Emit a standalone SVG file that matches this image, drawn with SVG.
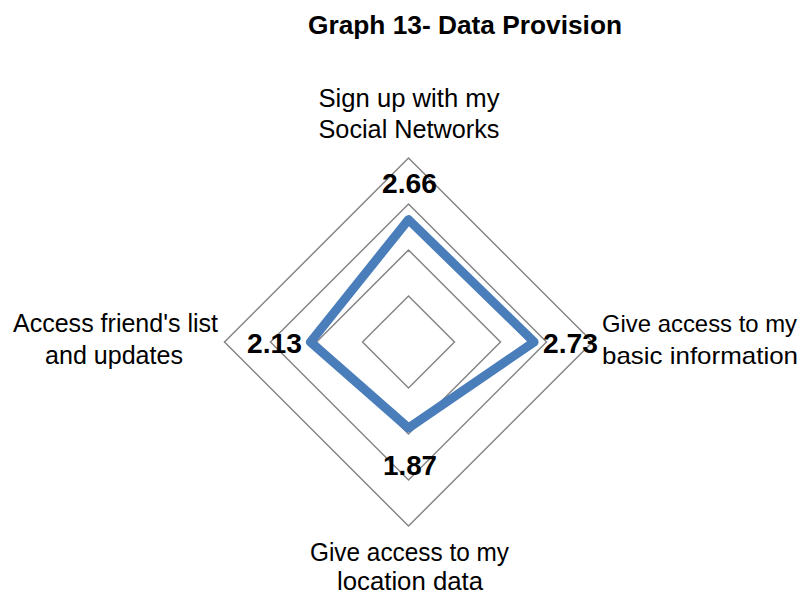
<svg xmlns="http://www.w3.org/2000/svg" width="804" height="596" viewBox="0 0 804 596">
  <style>
    text { font-family: "Liberation Sans", Arial, sans-serif; fill: #000; text-anchor: middle; }
    .title { font-size: 26px; font-weight: bold; }
    .axis { font-size: 25.5px; }
    .axis-r { font-size: 24px; }
    .val { font-size: 28px; font-weight: bold; }
    .grid { fill: none; stroke: #868686; stroke-width: 1.5; }
    .series { fill: none; stroke: #4A7EBB; stroke-width: 9; stroke-linejoin: round; }
  </style>
  <rect width="804" height="596" fill="#ffffff"/>

  <text class="title" x="465" y="34" textLength="314" lengthAdjust="spacingAndGlyphs">Graph 13- Data Provision</text>

  <!-- radar grid: rings at 1, 2, 3, 4 (46px per unit), centre 408.5,342 -->
  <g id="grid">
    <polygon class="grid" points="408.5,296 454.5,342 408.5,388 362.5,342"/>
    <polygon class="grid" points="408.5,250 500.5,342 408.5,434 316.5,342"/>
    <polygon class="grid" points="408.5,204 546.5,342 408.5,480 270.5,342"/>
    <polygon class="grid" points="408.5,158 592.5,342 408.5,526 224.5,342"/>
  </g>

  <!-- data series -->
  <g id="connectors">
    <polygon class="series" points="408.5,219.6 534.1,342 408.5,428 310.5,342"/>
  </g>

  <g id="node-signup">
    <text class="axis" x="409" y="107" textLength="181" lengthAdjust="spacingAndGlyphs">Sign up with my</text>
    <text class="axis" x="409" y="138" textLength="181" lengthAdjust="spacingAndGlyphs">Social Networks</text>
    <text class="val" x="409.5" y="193" textLength="55" lengthAdjust="spacingAndGlyphs">2.66</text>
  </g>

  <g id="node-basic">
    <text class="axis axis-r" x="699.5" y="332" textLength="195" lengthAdjust="spacingAndGlyphs">Give access to my</text>
    <text class="axis axis-r" x="700" y="364" textLength="196" lengthAdjust="spacingAndGlyphs">basic information</text>
    <text class="val" x="570.5" y="353" textLength="55" lengthAdjust="spacingAndGlyphs">2.73</text>
  </g>

  <g id="node-location">
    <text class="axis" x="409.5" y="561" textLength="199" lengthAdjust="spacingAndGlyphs">Give access to my</text>
    <text class="axis" x="410" y="590" textLength="146" lengthAdjust="spacingAndGlyphs">location data</text>
    <text class="val" x="410" y="475" textLength="54" lengthAdjust="spacingAndGlyphs">1.87</text>
  </g>

  <g id="node-friends">
    <text class="axis" x="115.5" y="332" textLength="205" lengthAdjust="spacingAndGlyphs">Access friend's list</text>
    <text class="axis" x="114" y="364" textLength="138" lengthAdjust="spacingAndGlyphs">and updates</text>
    <text class="val" x="274.5" y="353" textLength="55" lengthAdjust="spacingAndGlyphs">2.13</text>
  </g>
</svg>
